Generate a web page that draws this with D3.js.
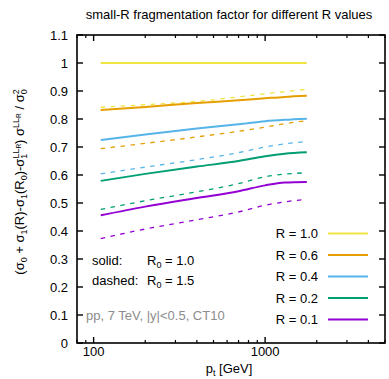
<!DOCTYPE html>
<html>
<head>
<meta charset="utf-8">
<script src="https://cdn.jsdelivr.net/npm/d3@7"></script>
<style>
  html, body { margin: 0; padding: 0; background: #fff; }
  svg { display: block; font-family: "Liberation Sans", Arial, sans-serif; }
</style>
</head>
<body>
<svg id="chart" width="389" height="379"></svg>
<script>
// transverse momentum sample points [GeV]
const ptValues = [110, 200, 400, 700, 1000, 1300, 1750];

// ratio with R0 = 1.0 (solid)
const solidR10 = [1.000, 1.000, 1.000, 1.000, 1.000, 1.000, 1.000];
const solidR06 = [0.832, 0.843, 0.857, 0.867, 0.874, 0.879, 0.883];
const solidR04 = [0.725, 0.745, 0.766, 0.781, 0.792, 0.797, 0.801];
const solidR02 = [0.579, 0.604, 0.630, 0.650, 0.667, 0.676, 0.681];
const solidR01 = [0.456, 0.487, 0.518, 0.542, 0.563, 0.573, 0.575];

// ratio with R0 = 1.5 (dashed)
const dashedR10 = [0.842, 0.851, 0.863, 0.879, 0.890, 0.898, 0.906];
const dashedR06 = [0.694, 0.713, 0.736, 0.756, 0.771, 0.783, 0.794];
const dashedR04 = [0.604, 0.628, 0.655, 0.680, 0.700, 0.711, 0.720];
const dashedR02 = [0.477, 0.508, 0.540, 0.569, 0.594, 0.603, 0.608];
const dashedR01 = [0.373, 0.407, 0.440, 0.468, 0.492, 0.504, 0.513];

const radii = ["1.0", "0.6", "0.4", "0.2", "0.1"];
const radiusColors = ["#f0e442", "#e69f00", "#56b4e9", "#009e73", "#9400d3"];
const solidSeries = [solidR10, solidR06, solidR04, solidR02, solidR01];
const dashedSeries = [dashedR10, dashedR06, dashedR04, dashedR02, dashedR01];

const yTicks = [0, 0.1, 0.2, 0.3, 0.4, 0.5, 0.6, 0.7, 0.8, 0.9, 1, 1.1];
const xMajorTicks = [100, 1000];
const xMinorTicks = [80, 90, 200, 300, 400, 500, 600, 700, 800, 900, 2000, 3000, 4000, 5000];

const svg = d3.select("#chart");
const frame = { left: 77, right: 385, top: 35, bottom: 343 };

const x = d3.scaleLog().domain([80, 5000]).range([frame.left, frame.right]);
const y = d3.scaleLinear().domain([0, 1.1]).range([frame.bottom, frame.top]);

// helper: text with sub/superscripts; each part has an offset from the baseline
function richText(textSel, parts) {
  let cur = 0;
  parts.forEach(p => {
    const ts = textSel.append("tspan").text(p.t);
    const off = p.off || 0;
    ts.attr("dy", off - cur);
    cur = off;
    if (p.size) ts.attr("font-size", p.size);
    if (p.dx) ts.attr("dx", p.dx);
  });
  return textSel;
}

// title
svg.append("text")
  .attr("x", 229).attr("y", 19)
  .attr("text-anchor", "middle")
  .attr("font-size", 13)
  .attr("fill", "#000")
  .text("small-R fragmentation factor for different R values");

// curves
const line = d3.line()
  .x((d, i) => x(ptValues[i]))
  .y(d => y(d))
  .curve(d3.curveMonotoneX);

const plot = svg.append("g");
dashedSeries.forEach((s, k) => {
  plot.append("path")
    .attr("d", line(s))
    .attr("fill", "none")
    .attr("stroke", radiusColors[k])
    .attr("stroke-width", 1.3)
    .attr("stroke-dasharray", "4.5,5.5");
});
solidSeries.forEach((s, k) => {
  plot.append("path")
    .attr("d", line(s))
    .attr("fill", "none")
    .attr("stroke", radiusColors[k])
    .attr("stroke-width", 2);
});

// frame and ticks
const axes = svg.append("g").attr("stroke", "#000");
axes.append("rect")
  .attr("x", frame.left).attr("y", frame.top)
  .attr("width", frame.right - frame.left).attr("height", frame.bottom - frame.top)
  .attr("fill", "none").attr("stroke-width", 1.6);

yTicks.forEach(v => {
  axes.append("line").attr("x1", frame.left).attr("x2", frame.left + 6)
    .attr("y1", y(v)).attr("y2", y(v)).attr("stroke-width", 1.4);
  axes.append("line").attr("x1", frame.right - 6).attr("x2", frame.right)
    .attr("y1", y(v)).attr("y2", y(v)).attr("stroke-width", 1.4);
});
xMajorTicks.forEach(v => {
  axes.append("line").attr("x1", x(v)).attr("x2", x(v))
    .attr("y1", frame.bottom).attr("y2", frame.bottom - 6).attr("stroke-width", 1.4);
  axes.append("line").attr("x1", x(v)).attr("x2", x(v))
    .attr("y1", frame.top).attr("y2", frame.top + 6).attr("stroke-width", 1.4);
});
xMinorTicks.forEach(v => {
  axes.append("line").attr("x1", x(v)).attr("x2", x(v))
    .attr("y1", frame.bottom).attr("y2", frame.bottom - 3).attr("stroke-width", 1.2);
  axes.append("line").attr("x1", x(v)).attr("x2", x(v))
    .attr("y1", frame.top).attr("y2", frame.top + 3).attr("stroke-width", 1.2);
});

// tick labels
const fmtY = d => (d === 0 ? "0" : d === 1 ? "1" : d3.format(".1f")(d));
svg.append("g").selectAll("text").data(yTicks).join("text")
  .attr("x", frame.left - 9).attr("y", d => y(d))
  .attr("dy", "0.36em")
  .attr("text-anchor", "end")
  .attr("font-size", 13)
  .text(fmtY);

svg.append("g").selectAll("text").data(xMajorTicks).join("text")
  .attr("x", d => x(d)).attr("y", 356)
  .attr("text-anchor", "middle")
  .attr("font-size", 13)
  .text(d => d);

// axis titles
richText(svg.append("text")
  .attr("x", 229).attr("y", 373)
  .attr("text-anchor", "middle")
  .attr("font-size", 13), [
  { t: "p" },
  { t: "t", off: 2.5, size: 9 },
  { t: " [GeV]", off: 0 }
]);

richText(svg.append("text")
  .attr("transform", "translate(24,182) rotate(-90)")
  .attr("text-anchor", "middle")
  .attr("font-size", 13), [
  { t: "(σ" },
  { t: "0", off: 3, size: 9 },
  { t: " + σ", off: 0 },
  { t: "1", off: 3, size: 9 },
  { t: "(R)-σ", off: 0 },
  { t: "1", off: 3, size: 9 },
  { t: "(R", off: 0 },
  { t: "0", off: 3, size: 9 },
  { t: ")-σ", off: 0 },
  { t: "1", off: 3, size: 9 },
  { t: "LL", off: -5, size: 9, dx: -5 },
  { t: "R", off: -3, size: 6.5 },
  { t: ")", off: 0 },
  { t: " σ", off: 0 },
  { t: "LL", off: -5, size: 9 },
  { t: "R", off: -3, size: 6.5 },
  { t: " / σ", off: 0 },
  { t: "0", off: 3, size: 9 },
  { t: "2", off: -5, size: 9, dx: -5 }
]);

// annotations
svg.append("text").attr("x", 92).attr("y", 265).attr("font-size", 13).text("solid:");
richText(svg.append("text").attr("x", 147).attr("y", 265).attr("font-size", 13), [
  { t: "R" }, { t: "0", off: 3, size: 9 }, { t: " = 1.0", off: 0 }
]);
svg.append("text").attr("x", 92).attr("y", 285).attr("font-size", 13).text("dashed:");
richText(svg.append("text").attr("x", 147).attr("y", 285).attr("font-size", 13), [
  { t: "R" }, { t: "0", off: 3, size: 9 }, { t: " = 1.5", off: 0 }
]);
svg.append("text").attr("x", 86).attr("y", 320).attr("font-size", 13)
  .attr("fill", "#8c8c8c").text("pp, 7 TeV, |y|<0.5, CT10");

// legend
const legendY = [233.5, 255, 276.5, 298, 319.5];
const legend = svg.append("g");
radii.forEach((r, k) => {
  legend.append("text")
    .attr("x", 318).attr("y", legendY[k]).attr("dy", "0.36em")
    .attr("text-anchor", "end").attr("font-size", 13)
    .text("R = " + r);
  legend.append("line")
    .attr("x1", 328).attr("x2", 368)
    .attr("y1", legendY[k]).attr("y2", legendY[k])
    .attr("stroke", radiusColors[k]).attr("stroke-width", 2);
});
</script>
</body>
</html>
